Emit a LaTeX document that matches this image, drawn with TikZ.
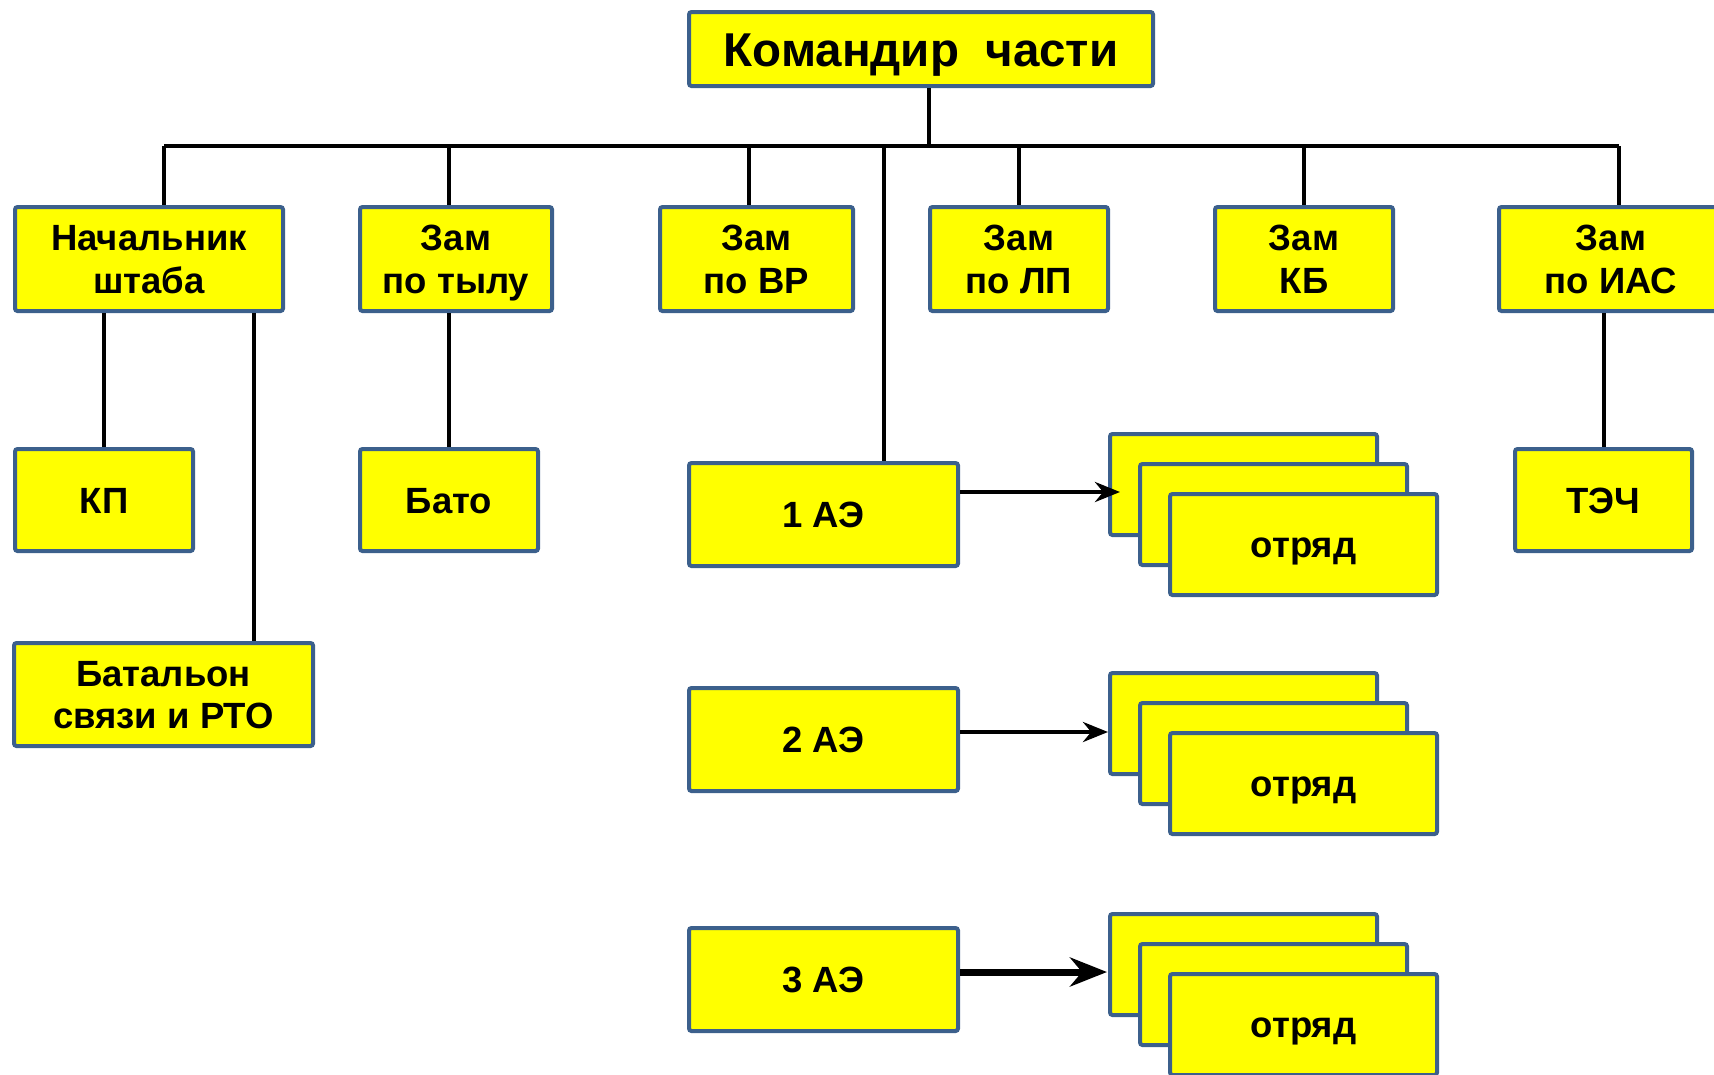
\documentclass[tikz,border=0pt]{standalone}
\usepackage{fontspec}
\setmainfont{Liberation Sans}
\usetikzlibrary{arrows.meta}
\definecolor{bordc}{RGB}{60,96,140}
\definecolor{boxy}{RGB}{255,255,0}
\newcommand\zs{\rule[-8pt]{0pt}{42.1pt}}
\newcommand\zsbig{\rule[-10pt]{0pt}{54pt}}
\newcommand\myls{\lineskiplimit=-50pt\relax\lineskip=0pt\relax}
\tikzset{
  box/.style={draw=bordc, line width=4pt, fill=boxy, rounded corners=2.5pt,
    inner sep=0pt, align=center,
    font=\fontsize{36.5}{42.5}\selectfont\bfseries\myls},
  conn/.style={line width=3.5pt, draw=black},
  arr/.style={line width=4pt, -{Stealth[length=25pt,width=20pt]}},
  arrbig/.style={line width=7pt, -{Stealth[length=37pt,width=29pt]}}
}
\begin{document}
\begin{tikzpicture}[x=1pt,y=-1pt]
\useasboundingbox (0,0) rectangle (1714,1074);

% top
\node[box, minimum width=464pt, minimum height=74pt, font=\fontsize{47.5}{56}\selectfont\bfseries] (cmd) at (921,49) {\zsbig Командир\ \ части};

% row 2
\node[box, minimum width=268pt, minimum height=104pt] (ns) at (149,259) {\zs Начальник\\\zs штаба};
\node[box, minimum width=192pt, minimum height=104pt] (tyl) at (456,259) {\zs Зам\\\zs по тылу};
\node[box, minimum width=193pt, minimum height=104pt] (vr) at (756.5,259) {\zs Зам\\\zs по ВР};
\node[box, minimum width=178pt, minimum height=104pt] (lp) at (1019,259) {\zs Зам\\\zs по ЛП};
\node[box, minimum width=178pt, minimum height=104pt] (kb) at (1304,259) {\zs Зам\\\zs КБ};
\node[box, minimum width=224pt, minimum height=104pt] (ias) at (1611,259) {\zs Зам\\\zs по ИАС};

% row 3
\node[box, minimum width=178pt, minimum height=102pt] (kp) at (104,500) {\zs КП};
\node[box, minimum width=178pt, minimum height=102pt] (bato) at (449,500) {\zs Бато};
\node[box, minimum width=177pt, minimum height=102pt] (tech) at (1603.5,500) {\zs ТЭЧ};
\node[box, minimum width=299pt, minimum height=103pt] (bat) at (163.5,694.5) {\zs Батальон\\\zs связи и РТО};

% AE
\node[box, minimum width=269pt, minimum height=103pt] (ae1) at (823.5,514.5) {\zs 1 АЭ};
\node[box, minimum width=269pt, minimum height=103pt] (ae2) at (823.5,739.5) {\zs 2 АЭ};
\node[box, minimum width=269pt, minimum height=103pt] (ae3) at (823.5,979.5) {\zs 3 АЭ};

% otryad groups
\foreach \g/\y in {1/484.5, 2/723.5, 3/964.5}{
  \node[box, minimum width=267pt, minimum height=101pt] (o\g a) at (1243.5,\y) {};
  \node[box, minimum width=267pt, minimum height=101pt] (o\g b) at (1273.5,\y+30) {};
  \node[box, minimum width=267pt, minimum height=101pt] (o\g c) at (1303.5,\y+60) {\zs отряд};
}

% bus coordinates
\coordinate (j0) at (929,146);
\coordinate (b1) at (164,146);
\coordinate (b2) at (449,146);
\coordinate (b3) at (749,146);
\coordinate (b4) at (884,146);
\coordinate (b5) at (1019,146);
\coordinate (b6) at (1304,146);
\coordinate (b7) at (1619,146);
\coordinate (s1) at (104,400);
\coordinate (s2) at (254,400);
\coordinate (s3) at (449,400);
\coordinate (s4) at (1604,400);

\draw[conn] (cmd.south -| j0) -- (j0);
\draw[conn] (b1) -- (b7);
\draw[conn] (b1) -- (ns.north -| b1);
\draw[conn] (b2) -- (tyl.north -| b2);
\draw[conn] (b3) -- (vr.north -| b3);
\draw[conn] (b4) -- (ae1.north -| b4);
\draw[conn] (b5) -- (lp.north -| b5);
\draw[conn] (b6) -- (kb.north -| b6);
\draw[conn] (b7) -- (ias.north -| b7);

\draw[conn] (ns.south -| s1) -- (kp.north -| s1);
\draw[conn] (ns.south -| s2) -- (bat.north -| s2);
\draw[conn] (tyl.south -| s3) -- (bato.north -| s3);
\draw[conn] (ias.south -| s4) -- (tech.north -| s4);

% arrows
\coordinate (t1) at (1120,492);
\coordinate (t2) at (1108,732);
\coordinate (t3) at (1107,972);
\draw[arr] (ae1.east |- t1) -- (t1);
\draw[arr] (ae2.east |- t2) -- (t2);
\draw[arrbig] (ae3.east |- t3) -- (t3);
\end{tikzpicture}
\end{document}
